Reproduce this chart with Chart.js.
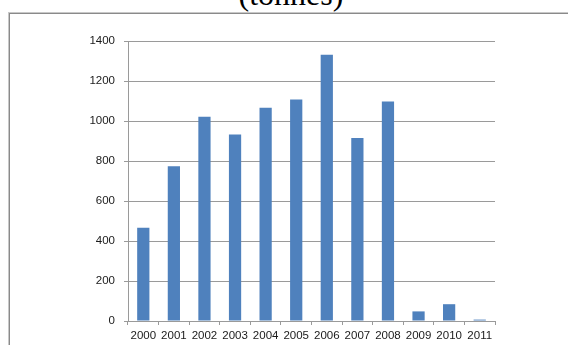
<!DOCTYPE html>
<html>
<head>
<meta charset="utf-8">
<script src="https://cdn.jsdelivr.net/npm/chart.js@4.4.1/dist/chart.umd.min.js"></script>
<style>
  html, body { margin: 0; padding: 0; background: #fff; overflow: hidden; }
  #page { position: relative; width: 568px; height: 345px; overflow: hidden; }
  #title {
    position: absolute; left: 0; width: 582px; top: -22px;
    text-align: center; font-family: "Liberation Serif", "Times New Roman", serif;
    font-size: 32px; line-height: 32px; color: #000;
  }
  #frame {
    position: absolute; left: 9px; top: 13px; width: 600px; height: 400px;
    border-left: 1px solid #8a8a8a; border-top: 1px solid #8a8a8a;
    box-shadow: -1px -1px 0 #c8c8c8;
  }
  #chart { position: absolute; left: 0; top: 0; }
</style>
</head>
<body>
<div id="page">
  <div id="title">(tonnes)</div>
  <div id="frame"></div>
  <canvas id="chart" width="568" height="345"></canvas>
</div>
<script>
// annual catch, tonnes
const years = ['2000', '2001', '2002', '2003', '2004', '2005', '2006', '2007', '2008', '2009', '2010', '2011'];
const tonnes = [466, 774, 1021, 933, 1066, 1107, 1331, 915, 1097, 48, 84, 7];
const yMax = 1400;
const yStep = 200;

const axisFont = { family: '"Liberation Sans", Arial, sans-serif', size: 11.5 };
const gridColor = '#9a9a9a';

const ctx = document.getElementById('chart').getContext('2d');
new Chart(ctx, {
    type: 'bar',
    data: {
        labels: years,
        datasets: [{
            label: 'tonnes',
            data: tonnes,
            backgroundColor: '#4f81bd',
            borderWidth: 0,
            barPercentage: 0.4,
            categoryPercentage: 1.0
        }]
    },
    options: {
        responsive: false,
        animation: false,
        devicePixelRatio: 1,
        layout: { padding: { left: 0, top: 41, right: 73, bottom: 0 } },
        plugins: {
            legend: { display: false },
            tooltip: { enabled: false }
        },
        scales: {
            x: {
                offset: true,
                grid: { offset: true, drawOnChartArea: false, drawTicks: true, tickLength: 4, color: gridColor },
                border: { display: true, color: gridColor },
                ticks: { color: '#1a1a1a', font: axisFont, padding: 4, maxRotation: 0, autoSkip: false },
                afterFit: (s) => { s.height = 24; }
            },
            y: {
                min: 0,
                max: yMax,
                grid: { color: gridColor, tickLength: 4 },
                border: { display: true, color: gridColor },
                ticks: {
                    stepSize: yStep,
                    color: '#1a1a1a',
                    font: axisFont,
                    padding: 9,
                    callback: (v) => String(v)
                },
                afterFit: (s) => { s.width = 128; }
            }
        }
    }
});
</script>
</body>
</html>
